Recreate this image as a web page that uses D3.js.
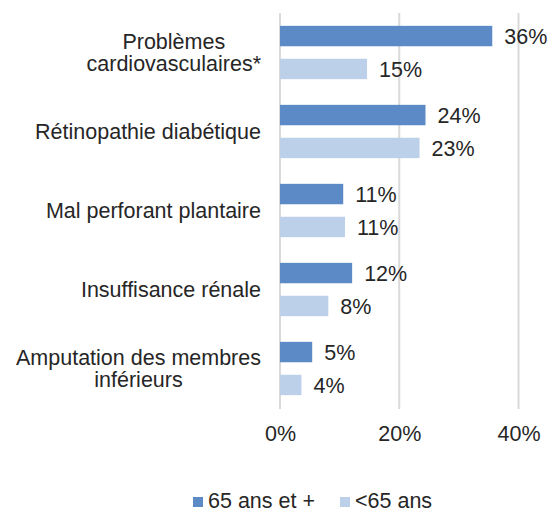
<!DOCTYPE html>
<html><head><meta charset="utf-8">
<script src="https://cdn.jsdelivr.net/npm/d3@7"></script>
<style>body{margin:0;background:#fff}svg{display:block}text{font-family:Arial,"Liberation Sans",sans-serif;fill:#262626}</style>
</head><body>
<svg id="c" width="552" height="513"></svg>
<script>
const categories = [["Problèmes","cardiovasculaires*"],["Rétinopathie diabétique"],["Mal perforant plantaire"],["Insuffisance rénale"],["Amputation des membres","inférieurs"]];
const seriesNames = ["65 ans et +","<65 ans"];
const seniors = [35.6, 24.4, 10.6, 12.1, 5.4];
const juniors = [14.6, 23.4, 10.9, 8.1, 3.6];
const xTicks = [0, 20, 40];
const colors = ["#5B8AC6", "#BDD0E9"];

const svg = d3.select("#c");
const fs = 21.5;
const keys = categories.map(c => c.join(" "));
const x = d3.scaleLinear().domain([0, 40]).range([280, 518.5]);
const y = d3.scaleBand().domain(keys).range([13, 408]).padding(0);
const yi = d3.scaleBand().domain(seriesNames).range([0, y.bandwidth()]).paddingInner(0.38).paddingOuter(0.39);

// gridlines
svg.append("g").selectAll("line").data(xTicks).join("line")
  .attr("x1", d => x(d)).attr("x2", d => x(d))
  .attr("y1", 13).attr("y2", 409)
  .attr("stroke", "#D9D9D9").attr("stroke-width", 2);

// x axis labels
const xAxis = d3.axisBottom(x).tickValues(xTicks).tickFormat(d => d + "%").tickSize(0).tickPadding(0);
const gx = svg.append("g").attr("transform", "translate(0,425)").call(xAxis);
gx.select(".domain").remove();
gx.selectAll("text").attr("font-size", fs).attr("dy", 0).attr("y", 16)
  .style("font-family", "Arial, 'Liberation Sans', sans-serif").attr("fill", "#262626");

const data = [seniors, juniors];
const gBars = svg.append("g");
keys.forEach((k, i) => {
  seriesNames.forEach((s, j) => {
    const v = data[j][i];
    gBars.append("rect")
      .attr("x", x(0)).attr("y", y(k) + yi(s))
      .attr("width", x(v) - x(0)).attr("height", yi.bandwidth())
      .attr("fill", colors[j]);
    gBars.append("text")
      .attr("x", x(v) + 12).attr("y", y(k) + yi(s) + yi.bandwidth() / 2 + fs * 0.36)
      .attr("font-size", fs).text(Math.round(v) + "%");
  });
});

// category labels
const lh = 22.5, rightEdge = 261;
categories.forEach((lines, i) => {
  const cy = y(keys[i]) + y.bandwidth() / 2;
  const g = svg.append("g");
  const ts = lines.map((t, li) => g.append("text").attr("font-size", fs)
    .attr("y", cy + fs * 0.36 - (lines.length - 1) * lh / 2 + li * lh).text(t));
  const maxW = d3.max(ts, t => t.node().getComputedTextLength());
  ts.forEach(t => t.attr("text-anchor", "middle").attr("x", rightEdge - maxW / 2));
});

// legend
const legX = [193, 340];
seriesNames.forEach((s, j) => {
  svg.append("rect").attr("x", legX[j]).attr("y", 497).attr("width", 10).attr("height", 10).attr("fill", colors[j]);
  svg.append("text").attr("x", legX[j] + 15).attr("y", 508).attr("font-size", fs).text(s);
});
</script>
</body></html>
